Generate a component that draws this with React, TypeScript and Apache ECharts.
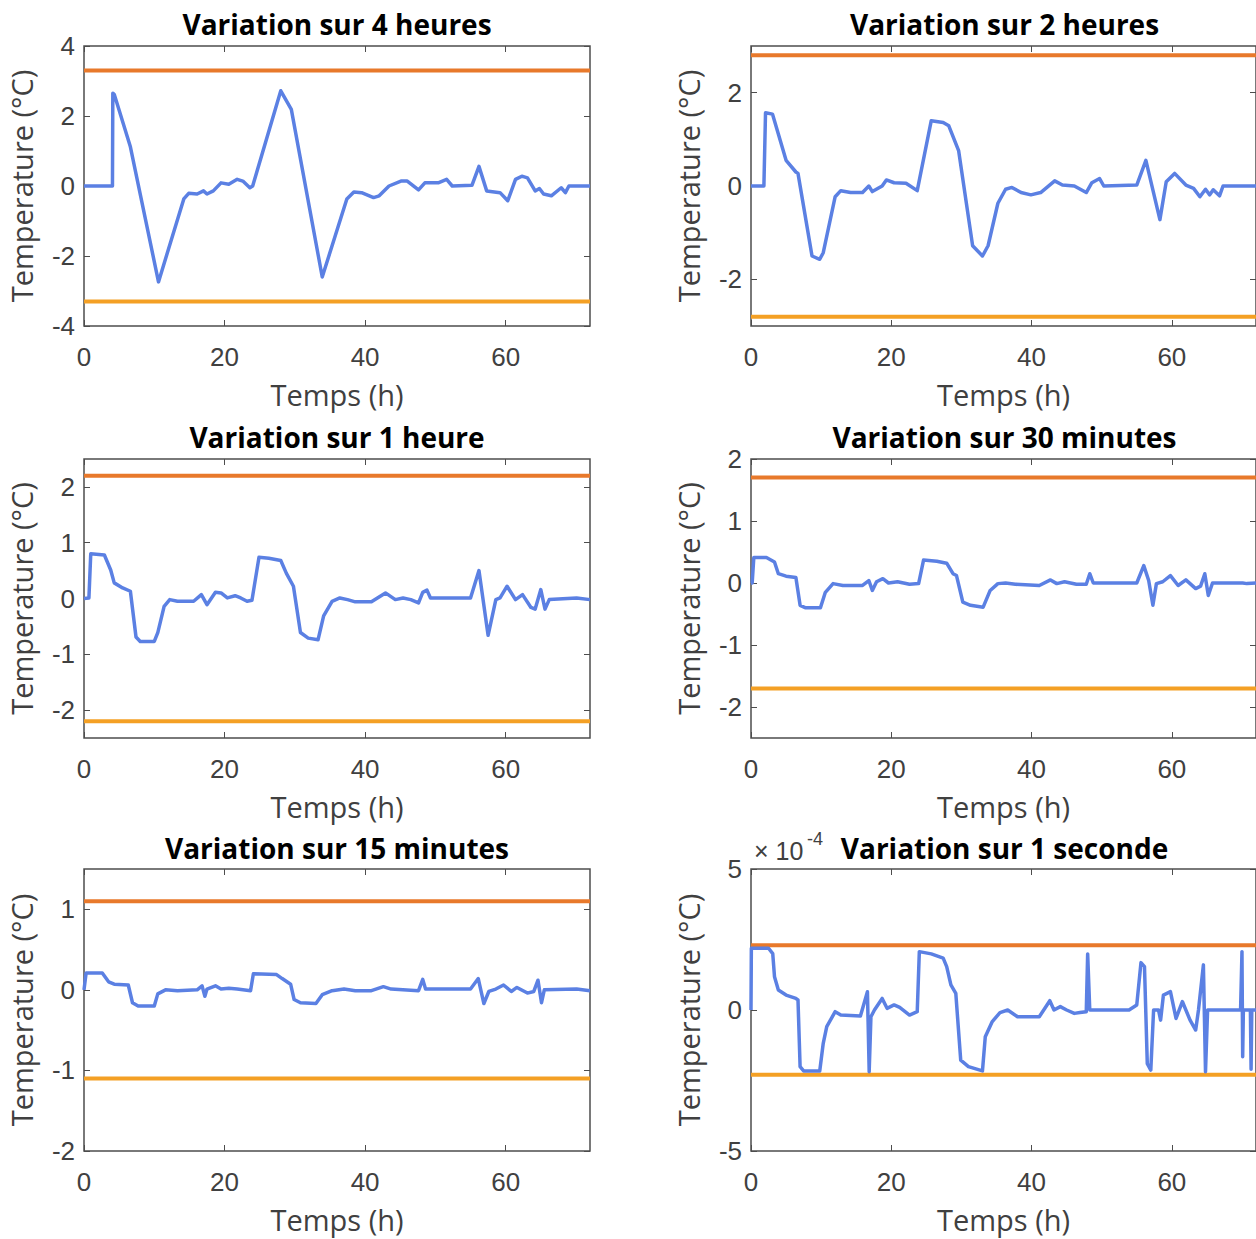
import React, { useEffect, useRef } from "react";
import * as echarts from "echarts";

// ---------- DATA ----------
const titles = [
  "Variation sur 4 heures",
  "Variation sur 2 heures",
  "Variation sur 1 heure",
  "Variation sur 30 minutes",
  "Variation sur 15 minutes",
  "Variation sur 1 seconde",
];
const xTicks = [0, 20, 40, 60];
const xMax = 72;
const yMins = [-4, -3, -2.5, -2.5, -2, -5];
const yMaxs = [4, 3, 2.5, 2, 1.5, 5];
const yTicks = [
  [-4, -2, 0, 2, 4],
  [-2, 0, 2],
  [-2, -1, 0, 1, 2],
  [-2, -1, 0, 1, 2],
  [-2, -1, 0, 1],
  [-5, 0, 5],
];
// limit lines (upper = +L, lower = -L); last one in units of 1e-4
const limits = [3.3, 2.8, 2.2, 1.7, 1.1, 2.3];

const var4h = [
  [0, 0], [4.05, 0], [4.1, 2.65], [4.3, 2.62], [6.6, 1.12], [10.6, -2.74], [14.2, -0.37], [14.9, -0.21],
  [16.1, -0.23], [17, -0.14], [17.5, -0.23], [18.4, -0.14], [19.5, 0.09], [20.6, 0.05], [21.8, 0.19],
  [22.6, 0.14], [23.6, -0.05], [24, 0], [28, 2.72], [29.5, 2.19], [33.9, -2.6], [37.4, -0.37],
  [38.4, -0.17], [39.5, -0.19], [41.2, -0.33], [42, -0.28], [43.4, 0], [45.1, 0.14], [46, 0.14],
  [47.6, -0.11], [48.5, 0.09], [50.4, 0.09], [51.6, 0.19], [52.4, 0], [55.2, 0.02], [56.2, 0.56],
  [57.3, -0.14], [59.2, -0.19], [60.3, -0.42], [61.4, 0.19], [62.3, 0.28], [63.1, 0.23], [64.2, -0.14],
  [64.8, -0.07], [65.4, -0.23], [66.5, -0.28], [67.9, -0.05], [68.5, -0.19], [69, 0], [72, 0],
];
const var2h = [
  [0, 0], [1.84, 0], [2.07, 1.57], [3.07, 1.54], [5, 0.55], [6.4, 0.3], [6.7, 0.27], [8.7, -1.5],
  [9.8, -1.57], [10.3, -1.43], [12, -0.23], [12.8, -0.1], [14.2, -0.14], [15.9, -0.14], [16.8, 0],
  [17.3, -0.12], [18.7, 0], [19.3, 0.13], [20.4, 0.07], [22.1, 0.06], [23.7, -0.1], [25.7, 1.4],
  [27.4, 1.36], [28.2, 1.29], [29.6, 0.76], [31.6, -1.28], [33, -1.5], [33.8, -1.28], [35.2, -0.37],
  [36.3, -0.07], [37.2, -0.03], [38.5, -0.14], [39.9, -0.19], [41.3, -0.14], [43.3, 0.11], [44.4, 0.02],
  [46.1, 0], [47.8, -0.14], [48.6, 0.07], [49.7, 0.16], [50.3, 0], [55, 0.02], [56.3, 0.55],
  [58.3, -0.72], [59.2, 0.09], [60.4, 0.27], [62, 0.02], [63.1, -0.05], [64, -0.23], [64.8, -0.07],
  [65.4, -0.19], [65.9, -0.08], [66.8, -0.21], [67.3, 0], [72, 0],
];
const var1h = [
  [0, 0], [0.7, 0.01], [0.96, 0.8], [2.9, 0.78], [3.8, 0.51], [4.3, 0.28], [5.5, 0.19], [6.6, 0.13],
  [7.4, -0.69], [8, -0.77], [10, -0.77], [10.5, -0.61], [11.4, -0.14], [12.2, -0.02], [13.3, -0.05],
  [15.6, -0.05], [16.7, 0.07], [17.5, -0.11], [18.7, 0.11], [19.5, 0.1], [20.4, 0.01], [21.5, 0.05],
  [22.3, 0.01], [23.2, -0.05], [23.9, -0.03], [24.9, 0.74], [26.3, 0.72], [28, 0.68], [28.8, 0.45],
  [29.8, 0.22], [30.8, -0.61], [31.9, -0.71], [33.3, -0.74], [34.1, -0.31], [35.3, -0.05], [36.4, 0.01],
  [37.5, -0.02], [38.6, -0.06], [40.9, -0.06], [42.9, 0.1], [44.3, -0.02], [45.4, 0.01], [46.5, -0.02],
  [47.6, -0.08], [48.2, 0.11], [48.8, 0.15], [49.3, 0.01], [55, 0.01], [56.2, 0.5], [57.5, -0.66],
  [58.6, -0.02], [59.2, 0.01], [60.2, 0.22], [61.4, -0.02], [62.4, 0.07], [63.6, -0.16], [64.2, -0.19],
  [65, 0.16], [65.6, -0.19], [66.2, -0.02], [70.1, 0.01], [72, -0.02],
];
const var30m = [
  [0, 0], [0.17, 0], [0.4, 0.41], [2.2, 0.41], [3.35, 0.34], [3.9, 0.15], [5, 0.11], [6.4, 0.09],
  [7, -0.36], [7.8, -0.4], [9.9, -0.4], [10.6, -0.15], [11.7, -0.01], [13.1, -0.04], [15.9, -0.04],
  [16.8, 0.04], [17.3, -0.12], [17.9, 0.02], [18.8, 0.07], [19.6, 0], [20.9, 0.02], [22.6, -0.02],
  [23.9, -0.01], [24.6, 0.37], [26.5, 0.35], [27.9, 0.32], [28.8, 0.15], [29.3, 0.12], [30.2, -0.31],
  [31.3, -0.36], [33.1, -0.39], [34.1, -0.12], [35.2, -0.01], [36.3, 0], [37.7, -0.02], [41.1, -0.04],
  [42.7, 0.05], [43.6, -0.01], [44.7, 0.02], [46.4, -0.02], [47.8, -0.02], [48.3, 0.15], [48.8, 0],
  [55, 0], [56, 0.28], [56.7, 0.04], [57.3, -0.36], [57.8, -0.01], [58.7, 0.02], [59.8, 0.12],
  [60.9, -0.04], [62, 0.05], [63.4, -0.09], [64.1, -0.05], [64.7, 0.15], [65.2, -0.2], [65.8, 0],
  [70.1, 0], [70.7, -0.01], [72, 0],
];
const var15m = [
  [0, 0], [0.3, 0.21], [2.6, 0.21], [3.5, 0.1], [4.3, 0.07], [6.3, 0.06], [6.9, -0.16], [7.7, -0.2],
  [10, -0.2], [10.5, -0.05], [11.6, 0], [13.3, -0.01], [16.1, 0], [16.8, 0.05], [17.2, -0.08],
  [17.5, 0.01], [18.7, 0.05], [19.5, 0.01], [20.6, 0.02], [21.8, 0.01], [23.7, -0.01], [24.1, 0.2],
  [27.4, 0.19], [28.2, 0.14], [29.4, 0.07], [29.9, -0.12], [30.8, -0.16], [33, -0.17], [33.9, -0.06],
  [35.3, -0.01], [37, 0.01], [38.6, -0.01], [40.9, -0.01], [42.6, 0.04], [43.7, 0.01], [47.6, -0.01],
  [48.2, 0.13], [48.6, 0.01], [55, 0.01], [56.1, 0.14], [56.9, -0.17], [57.6, -0.02], [58.6, 0.01],
  [59.7, 0.06], [60.8, -0.02], [61.6, 0.03], [63.1, -0.04], [64, -0.02], [64.6, 0.12], [65.1, -0.16],
  [65.5, 0], [70.1, 0.01], [72, -0.01],
];
// in units of 1e-4 °C
const var1s = [
  [0, 0], [0.05, 2.19], [2.5, 2.19], [3.1, 2.0], [3.35, 1.18], [3.9, 0.71], [5, 0.53], [6.4, 0.41],
  [6.7, 0.36], [7, -2.01], [7.5, -2.16], [9.8, -2.16], [10.3, -1.18], [10.8, -0.59], [12, -0.06],
  [12.8, -0.18], [15.6, -0.21], [16.6, 0.65], [16.85, -2.19], [17.1, -0.24], [17.6, 0], [18.7, 0.41],
  [19.4, 0.06], [20.4, 0.18], [21.2, 0.09], [22.6, -0.18], [23.7, -0.06], [24, 2.07], [25.7, 1.99],
  [27.4, 1.84], [27.9, 1.54], [28.5, 0.89], [29.2, 0.59], [29.9, -1.78], [31, -2.01], [33, -2.16],
  [33.4, -0.95], [34.4, -0.41], [35.5, -0.09], [36.6, 0], [38, -0.24], [41.1, -0.24], [41.9, 0.06],
  [42.6, 0.33], [43.2, 0], [44.1, 0.12], [45, 0], [46.1, -0.12], [46.9, -0.09], [47.8, -0.06],
  [48, 1.99], [48.3, 0], [53.9, 0], [55, 0.18], [55.6, 1.68], [56.1, 1.54], [56.5, -1.9], [57, -2.13],
  [57.4, 0], [58.1, 0], [58.4, -0.36], [58.8, 0.53], [59.8, 0.65], [60.6, -0.3], [61.5, 0.3],
  [62.6, -0.36], [63.4, -0.71], [63.8, 0], [64.5, 1.6], [64.8, -2.19], [65.1, 0], [69.8, 0], [70, 2.07],
  [70.1, -1.66], [70.2, 0], [71.2, 0], [71.3, -2.1], [71.4, 0], [72, 0],
];
const seriesData = [var4h, var2h, var1h, var30m, var15m, var1s];

// ---------- LAYOUT / STYLE ----------
const colLeft = [84, 751];
const colWidth = [506, 507];
const rowTop = [46, 459, 869];
const rowHeight = [280, 279, 282];
const titleY = [24, 437, 848];

const BLUE = "#5b80e3";
const ORANGE_UP = "#e8792b";
const ORANGE_LOW = "#f4a024";
const AXIS = "#4d4d4d";
const LABEL = "#404040";
const NAME_FONT = "Open Sans";

export default function App() {
  const ref = useRef<HTMLDivElement>(null);
  useEffect(() => {
    if (!ref.current) return;
    const chart = echarts.init(ref.current, undefined, { renderer: "svg" });
    const grid: any[] = [];
    const xAxis: any[] = [];
    const yAxis: any[] = [];
    const series: any[] = [];
    const graphic: any[] = [];
    for (let i = 0; i < 6; i++) {
      const r = Math.floor(i / 2);
      const c = i % 2;
      grid.push({
        left: colLeft[c],
        top: rowTop[r],
        width: colWidth[c],
        height: rowHeight[r],
        show: true,
        borderColor: AXIS,
        borderWidth: 1.5,
        backgroundColor: "#fff",
      });
      const tickStyle = { show: true, inside: true, length: 6, lineStyle: { color: AXIS, width: 1 } };
      xAxis.push({
        type: "value",
        gridIndex: i,
        min: 0,
        max: xMax,
        position: "bottom",
        axisLine: { show: false, onZero: false },
        splitLine: { show: false },
        axisTick: { ...tickStyle, customValues: xTicks },
        axisLabel: {
          customValues: xTicks,
          margin: 18,
          fontSize: 26,
          fontFamily: "Liberation Sans",
          color: LABEL,
        },
        name: "Temps (h)",
        nameLocation: "middle",
        nameGap: 54,
        nameTextStyle: { fontSize: 29, fontFamily: NAME_FONT, color: LABEL },
      });
      xAxis.push({
        type: "value",
        gridIndex: i,
        min: 0,
        max: xMax,
        position: "top",
        axisLine: { show: false, onZero: false },
        splitLine: { show: false },
        axisTick: { ...tickStyle, customValues: xTicks },
        axisLabel: { show: false },
      });
      yAxis.push({
        type: "value",
        gridIndex: i,
        min: yMins[i],
        max: yMaxs[i],
        position: "left",
        axisLine: { show: false, onZero: false },
        splitLine: { show: false },
        axisTick: { ...tickStyle, customValues: yTicks[i] },
        axisLabel: {
          customValues: yTicks[i],
          margin: 9,
          fontSize: 26,
          fontFamily: "Liberation Sans",
          color: LABEL,
        },
        name: "Temperature (°C)",
        nameLocation: "middle",
        nameGap: 48,
        nameTextStyle: { fontSize: 29, fontFamily: NAME_FONT, color: LABEL },
      });
      yAxis.push({
        type: "value",
        gridIndex: i,
        min: yMins[i],
        max: yMaxs[i],
        position: "right",
        axisLine: { show: false, onZero: false },
        splitLine: { show: false },
        axisTick: { ...tickStyle, customValues: yTicks[i] },
        axisLabel: { show: false },
      });
      const L = limits[i];
      series.push({
        type: "line",
        xAxisIndex: 2 * i,
        yAxisIndex: 2 * i,
        data: [[0, L], [xMax, L]],
        showSymbol: false,
        lineStyle: { color: ORANGE_UP, width: 4 },
        silent: true,
      });
      series.push({
        type: "line",
        xAxisIndex: 2 * i,
        yAxisIndex: 2 * i,
        data: [[0, -L], [xMax, -L]],
        showSymbol: false,
        lineStyle: { color: ORANGE_LOW, width: 4 },
        silent: true,
      });
      series.push({
        type: "line",
        xAxisIndex: 2 * i,
        yAxisIndex: 2 * i,
        data: seriesData[i],
        showSymbol: false,
        lineStyle: { color: BLUE, width: 3.5, join: "round" },
        silent: true,
      });
      graphic.push({
        type: "text",
        x: colLeft[c] + colWidth[c] / 2,
        y: titleY[r],
        style: {
          text: titles[i],
          fontSize: 28,
          fontWeight: "bold",
          fontFamily: "Open Sans",
          fill: "#000",
          textAlign: "center",
          textVerticalAlign: "middle",
        },
      });
    }
    graphic.push({
      type: "text",
      x: 754,
      y: 851,
      style: {
        text: "× 10",
        fontSize: 25,
        fontFamily: "Liberation Sans",
        fill: LABEL,
        textAlign: "left",
        textVerticalAlign: "middle",
      },
    });
    graphic.push({
      type: "text",
      x: 807,
      y: 839,
      style: {
        text: "-4",
        fontSize: 18,
        fontFamily: "Liberation Sans",
        fill: LABEL,
        textAlign: "left",
        textVerticalAlign: "middle",
      },
    });
    chart.setOption({
      animation: false,
      backgroundColor: "#fff",
      grid,
      xAxis,
      yAxis,
      series,
      graphic,
    });
    return () => chart.dispose();
  }, []);
  return (
    <div
      ref={ref}
      style={{ position: "absolute", left: 0, top: 0, width: 1256, height: 1239, overflow: "hidden" }}
    />
  );
}
